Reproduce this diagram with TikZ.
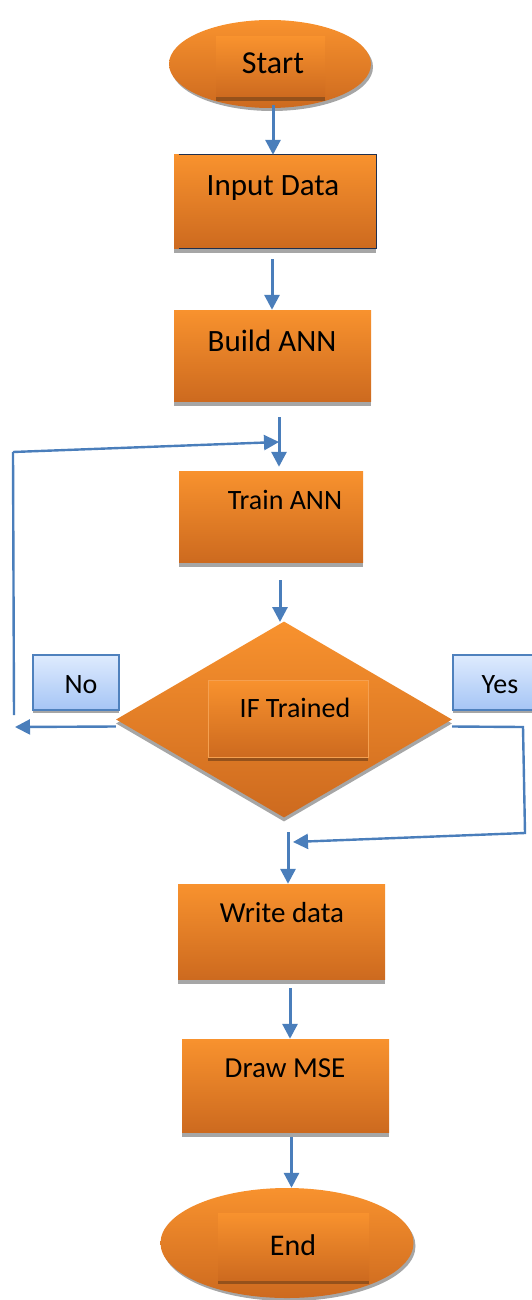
\documentclass[tikz,border=0pt]{standalone}
\usepackage{fontspec}
\setmainfont{Carlito}
\usetikzlibrary{shapes.geometric,arrows.meta,shadows}
\definecolor{orTop}{HTML}{F8922E}
\definecolor{orBot}{HTML}{CD6A1F}
\definecolor{shGray}{HTML}{A6A6A6}
\definecolor{barBrown}{HTML}{95511B}
\definecolor{lineBlue}{HTML}{4A7EBB}
\definecolor{boxNavy}{HTML}{1F2F4F}
\definecolor{lbTop}{HTML}{DEEBFE}
\definecolor{lbBot}{HTML}{A6C5F5}
\definecolor{lbEdge}{HTML}{4F81BD}
\definecolor{ifEdge}{HTML}{F5A050}

\begin{document}
\begin{tikzpicture}[x=1pt, y=-1pt,
    orfill/.style={top color=orTop, bottom color=orBot, inner sep=0pt},
    boxnode/.style={orfill, rectangle, drop shadow={shadow xshift=0pt, shadow yshift=-5pt, fill=shGray, opacity=1}},
    ovalnode/.style={orfill, ellipse, drop shadow={shadow xshift=2pt, shadow yshift=-3pt, fill=shGray, opacity=1}},
    tagbox/.style={orfill, rectangle, drop shadow={shadow xshift=0pt, shadow yshift=-4pt, fill=barBrown, opacity=1}},
    answer/.style={rectangle, top color=lbTop, bottom color=lbBot, draw=lbEdge, line width=1.3pt, inner sep=0pt,
        drop shadow={shadow xshift=0pt, shadow yshift=-3pt, fill=shGray, opacity=1}},
    txt/.style={font=\fontsize{#1}{#1}\selectfont, inner sep=0pt},
    arr/.style={draw=lineBlue, line width=3pt, -{Triangle[width=15pt,length=15pt]}},
    thinarr/.style={draw=lineBlue, line width=2.4pt, -{Triangle[width=15pt,length=15pt]}},
    thinline/.style={draw=lineBlue, line width=2.4pt}]
    \useasboundingbox (0,0) rectangle (531,1300);

    \node[ovalnode, minimum width=202pt, minimum height=88pt] (start) at (270,64) {};
    \node[tagbox, minimum width=109pt, minimum height=60pt] (startbox) at (270.5,67) {};
    \node[txt=32] (starttxt) at (273,63) {Start};

    \node[boxnode, minimum width=202pt, minimum height=93pt] (inp) at (275,201.5) {};
    \draw[boxNavy, line width=1.2pt] ([xshift=5pt]inp.north west) -- (inp.north east)
        -- (inp.south east) -- ([xshift=5pt]inp.south west);
    \node[txt=31] (inptxt) at (273,188) {Input Data};

    \node[boxnode, minimum width=197pt, minimum height=91pt] (build) at (272.5,355.5) {};
    \node[txt=31] (buildtxt) at (272,341) {Build ANN};

    \node[boxnode, minimum width=184pt, minimum height=91pt] (train) at (271,516.5) {};
    \node[txt=28] (traintxt) at (285,500) {Train ANN};

    \node[orfill, diamond, minimum width=336pt, minimum height=196pt,
        drop shadow={shadow xshift=0pt, shadow yshift=-4pt, fill=shGray, opacity=1}] (dia) at (284,719.5) {};
    \node[tagbox, draw=ifEdge, line width=1pt, minimum width=160pt, minimum height=77pt] (ifbox) at (288,718.5) {};
    \node[txt=28] (iftxt) at (295,708) {IF Trained};

    \node[answer, minimum width=86pt, minimum height=55pt] (no) at (76,682.5) {};
    \node[txt=28] (notxt) at (81,685) {No};
    \node[answer, minimum width=94pt, minimum height=55pt] (yes) at (500,682.5) {};
    \node[txt=28] (yestxt) at (500,685) {Yes};

    \node[boxnode, minimum width=207pt, minimum height=95pt] (write) at (281.5,931.5) {};
    \node[txt=29] (writetxt) at (282,913) {Write data};

    \node[boxnode, minimum width=207pt, minimum height=93pt] (mse) at (285.5,1085.5) {};
    \node[txt=29] (msetxt) at (285,1068) {Draw MSE};

    \node[ovalnode, minimum width=253pt, minimum height=110pt] (stop) at (287,1243) {};
    \node[tagbox, minimum width=151pt, minimum height=67pt] (stopbox) at (293.5,1246.5) {};
    \node[txt=30] (stoptxt) at (293,1245) {End};

    \coordinate (notop) at (13,452);
    \coordinate (nobot) at (14,715);
    \coordinate (noend) at (15,727);
    \coordinate (trainin) at (279,442);
    \coordinate (yescorner) at (523,727);
    \coordinate (yesbot) at (525,833);
    \coordinate (writein) at (293,842);
    \coordinate (writetop) at (288,832);

    \draw[arr] ([yshift=-41pt]start.center -| starttxt) -- (inp.north -| starttxt);
    \draw[arr] ([yshift=-11pt]inp.south -| buildtxt) -- (build.north -| buildtxt);
    \draw[arr] ([yshift=-16pt]build.south -| trainin) -- ([yshift=4pt]train.north -| trainin);
    \draw[thinline] (nobot) -- (notop);
    \draw[thinarr] (notop) -- (trainin);
    \draw[arr] ([yshift=-18pt]train.south -| 280,0) -- (280,622);
    \draw[thinarr] ([yshift=-7pt]dia.west) -- (noend);
    \draw[thinarr] ([yshift=-7pt]dia.east) -- (yescorner) -- (yesbot) -- (writein);
    \draw[arr] (writetop) -- (write.north -| writetop);
    \draw[arr] ([yshift=-9pt]write.south -| 290,0) -- (mse.north -| 290,0);
    \draw[arr] ([yshift=-5pt]mse.south -| 291.5,0) -- (stop.north -| 291.5,0);
\end{tikzpicture}
\end{document}
